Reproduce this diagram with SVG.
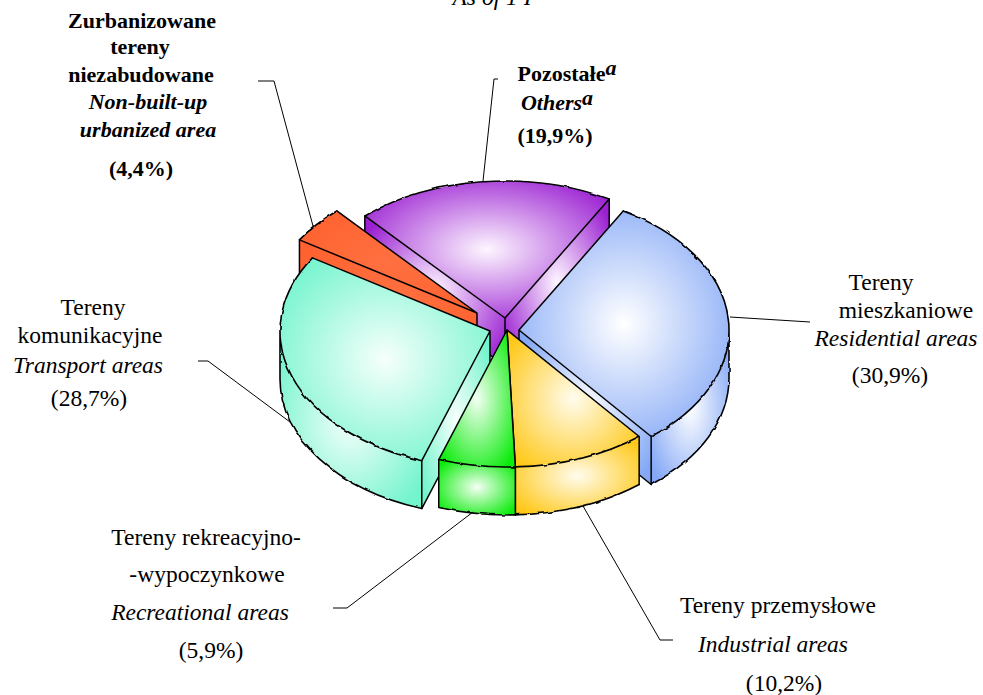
<svg xmlns="http://www.w3.org/2000/svg" width="983" height="695" viewBox="0 0 983 695" font-family="'Liberation Serif', 'Times New Roman', serif">
<defs>
<radialGradient id="gP" cx="0.5" cy="0.5" r="0.62"><stop offset="0" stop-color="#fdf6ff"/><stop offset="1" stop-color="#9b20d2"/></radialGradient>
<radialGradient id="gO" cx="0.5" cy="0.5" r="0.62"><stop offset="0" stop-color="#ff7040"/><stop offset="1" stop-color="#ff6230"/></radialGradient>
<radialGradient id="gB" cx="0.5" cy="0.5" r="0.62"><stop offset="0" stop-color="#ffffff"/><stop offset="1" stop-color="#84a8f6"/></radialGradient>
<radialGradient id="gT" cx="0.5" cy="0.5" r="0.62"><stop offset="0" stop-color="#f6fffc"/><stop offset="1" stop-color="#72f4cc"/></radialGradient>
<radialGradient id="gG" cx="0.5" cy="0.5" r="0.62"><stop offset="0" stop-color="#f4fff4"/><stop offset="1" stop-color="#0cec0c"/></radialGradient>
<radialGradient id="gY" cx="0.5" cy="0.5" r="0.62"><stop offset="0" stop-color="#fffcee"/><stop offset="1" stop-color="#ffc818"/></radialGradient>
<filter id="wob" filterUnits="userSpaceOnUse" x="0" y="0" width="983" height="695">
<feTurbulence type="fractalNoise" baseFrequency="0.12" numOctaves="1" seed="4" result="n"/>
<feDisplacementMap in="SourceGraphic" in2="n" scale="3.2" xChannelSelector="R" yChannelSelector="G"/>
</filter>
</defs>
<style>
.s{stroke:none}
.l{fill:none;stroke:#000;stroke-width:1.5;stroke-linejoin:round;stroke-linecap:round}
.w{fill:none;stroke:#000;stroke-width:1.6;stroke-linecap:round;filter:url(#wob)}
text{font-family:'Liberation Serif','Times New Roman',serif}
.t{font-size:23.5px;fill:#000;text-anchor:middle}
.b{font-weight:bold;font-size:22px}
.i{font-style:italic}
.c{fill:none;stroke:#000;stroke-width:1}
</style>
<rect width="983" height="695" fill="#fff"/>
<text class="t i" x="492" y="5">As of 1 I</text>

<g id="slice-others">
<g fill="url(#gP)">
<path d="M505,318 L364.83,215.98 L364.83,263.98 L505,366 Z"/>
<path d="M505,318 L609.24,199.07 L609.24,247.07 L505,366 Z"/>
<path d="M505,318 L364.83,215.98 A210,137 0 0 1 609.24,199.07 Z"/>
</g>
<path class="l" d="M364.83,263.98 V215.98 L505,318 L609.24,199.07 V247.07 L505,366 L364.83,263.98 M505,318 V366"/>
<path class="w" d="M364.83,215.98 A210,137 0 0 1 609.24,199.07"/>
</g>
<g id="slice-nonbuilt">
<g fill="url(#gO)">
<path d="M477,313 L299.45,239.84 L299.45,287.84 L477,361 Z"/>
<path d="M477,313 L299.45,239.84 A210,137 0 0 1 336.83,210.98 Z"/>
</g>
<path class="l" d="M336.83,210.98 L477,313 L299.45,239.84 V287.84 L477,361 V313"/>
<path class="w" d="M299.45,239.84 A210,137 0 0 1 336.83,210.98"/>
</g>
<g id="slice-residential">
<g fill="url(#gB)">
<path d="M519,330 L651.16,436.47 L651.16,484.47 L519,378 Z"/>
<path d="M729,330 A210,137 0 0 1 651.16,436.47 L651.16,484.47 A210,137 0 0 0 729,378 Z"/>
<path d="M519,330 L623.24,211.07 A210,137 0 0 1 651.16,436.47 Z"/>
</g>
<path class="l" d="M623.24,211.07 L519,330 L651.16,436.47 V484.47 L519,378 V330"/>
<path class="w" d="M623.24,211.07 A210,137 0 0 1 651.16,436.47 M729,330 V378 M651.16,484.47 A210,137 0 0 0 729,378"/>
</g>
<g id="slice-transport">
<g fill="url(#gT)">
<path d="M490,331 L421.77,460.57 L421.77,508.57 L490,379 Z"/>
<path d="M421.77,460.57 A210,137 0 0 1 280,331 L280,379 A210,137 0 0 0 421.77,508.57 Z"/>
<path d="M490,331 L421.77,460.57 A210,137 0 0 1 312.45,257.84 Z"/>
</g>
<path class="l" d="M312.45,257.84 L490,331 L421.77,460.57 V508.57 L490,379 V331"/>
<path class="w" d="M421.77,460.57 A210,137 0 0 1 312.45,257.84 M280,331 V379 A210,137 0 0 0 421.77,508.57"/>
</g>
<g id="slice-industrial">
<g fill="url(#gY)">
<path d="M639.16,436.47 A210,137 0 0 1 515.35,466.89 L515.35,514.89 A210,137 0 0 0 639.16,484.47 Z"/>
<path d="M507,330 L639.16,436.47 A210,137 0 0 1 515.35,466.89 Z"/>
</g>
<path class="l" d="M515.35,466.89 L507,330 L639.16,436.47 V484.47 M515.35,466.89 V514.89"/>
<path class="w" d="M639.16,436.47 A210,137 0 0 1 515.35,466.89 M639.16,484.47 A210,137 0 0 1 515.35,514.89"/>
</g>
<g id="slice-recreational">
<g fill="url(#gG)">
<path d="M515.35,466.89 A210,137 0 0 1 438.77,459.57 L438.77,507.57 A210,137 0 0 0 515.35,514.89 Z"/>
<path d="M507,330 L515.35,466.89 A210,137 0 0 1 438.77,459.57 Z"/>
</g>
<path class="l" d="M507,330 L515.35,466.89 V514.89 M507,330 L438.77,459.57 V507.57"/>
<path class="w" d="M515.35,466.89 A210,137 0 0 1 438.77,459.57 M515.35,514.89 A210,137 0 0 1 438.77,507.57"/>
</g>

<g id="connectors" class="c">
<path d="M258,81 H274 L313,226"/>
<path d="M498,79 H494 L483,181"/>
<path d="M730,317 L810,322"/>
<path d="M198,361 H208 L290,422"/>
<path d="M333,608 H347 L473,512"/>
<path d="M583,506 L660,640 H673"/>
</g>

<g id="label-nonbuilt" class="t b">
<text x="142" y="28">Zurbanizowane</text>
<text x="140" y="54">tereny</text>
<text x="141" y="82">niezabudowane</text>
<text class="i" x="148" y="109">Non-built-up</text>
<text class="i" x="148" y="137">urbanized area</text>
<text x="141" y="176">(4,4%)</text>
</g>
<g id="label-others" class="t b">
<text x="567" y="81">Pozostałe<tspan class="i" dy="-6">a</tspan></text>
<text class="i" x="557" y="110">Others<tspan dy="-5">a</tspan></text>
<text x="555" y="143">(19,9%)</text>
</g>
<g id="label-residential" class="t">
<text x="881" y="290">Tereny</text>
<text x="906" y="318">mieszkaniowe</text>
<text class="i" x="896" y="346">Residential areas</text>
<text x="890" y="383">(30,9%)</text>
</g>
<g id="label-transport" class="t">
<text x="93" y="315">Tereny</text>
<text x="90" y="343">komunikacyjne</text>
<text class="i" x="88" y="373">Transport areas</text>
<text x="89" y="406">(28,7%)</text>
</g>
<g id="label-recreational" class="t">
<text x="206" y="545">Tereny rekreacyjno-</text>
<text x="207" y="582">-wypoczynkowe</text>
<text class="i" x="200" y="620">Recreational areas</text>
<text x="211" y="658">(5,9%)</text>
</g>
<g id="label-industrial" class="t">
<text x="778" y="613">Tereny przemysłowe</text>
<text class="i" x="773" y="652">Industrial areas</text>
<text x="784" y="691">(10,2%)</text>
</g>
</svg>
